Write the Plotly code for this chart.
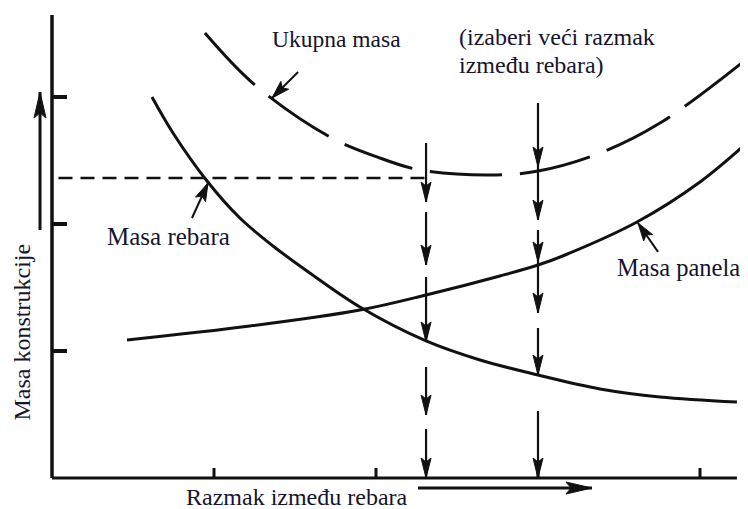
import plotly.graph_objects as go
import numpy as np

# ---------------- data (schematic units: 1 x-unit = one tick step, 1 y-unit = one tick step) -------------
x_ticks = [1, 2, 3, 4]
y_ticks = [1, 2, 3]

rebara_x = [0.617, 0.747, 0.957, 1.160, 1.364, 1.574, 1.901, 2.309, 2.642, 3.000, 3.383, 3.753, 4.228]
rebara_y = [3.000, 2.717, 2.339, 2.047, 1.827, 1.630, 1.346, 1.079, 0.929, 0.811, 0.701, 0.638, 0.598]

panela_x = [0.463, 1.222, 1.901, 2.309, 2.765, 3.000, 3.167, 3.611, 4.000, 4.296]
panela_y = [1.087, 1.197, 1.323, 1.441, 1.591, 1.677, 1.756, 2.016, 2.331, 2.646]

ukupna_x = [0.944, 1.253, 1.716, 2.006, 2.272, 2.704, 3.000, 3.383, 3.753, 4.296]
ukupna_y = [3.504, 3.094, 2.685, 2.528, 2.425, 2.386, 2.417, 2.559, 2.795, 3.307]

guide_level = 2.362
guide_x = [0.04, 2.309]

drop1_x = 2.309
drop1_segments = [(2.638, 2.173), (2.094, 1.677), (1.583, 1.071), (0.874, 0.496), (0.386, 0.0)]
drop2_x = 3.0
drop2_segments = [(2.953, 2.449), (2.449, 2.031), (1.953, 1.701), (1.701, 1.299), (1.181, 0.811), (0.528, 0.0)]

axis_x_end = 4.228
axis_y_end = 3.646

# label texts, positions (left, middle), font sizes and pointer arrows (tail -> tip)
label_texts = ["Ukupna masa", "Masa rebara", "Masa panela"]
label_pos = [(1.346, 3.457), (0.327, 1.898), (3.475, 1.661)]
label_size = [23.5, 25, 24.5]
pointer_tail = [(1.519, 3.197), (0.864, 2.047), (3.741, 1.780)]
pointer_tip = [(1.358, 2.992), (0.963, 2.323), (3.617, 2.008)]

note_lines = ["(izaberi veći razmak", "između rebara)"]
note_pos = [(2.500, 3.472), (2.500, 3.252)]
note_size = [24, 24]

x_title = "Razmak između rebara"
y_title = "Masa konstrukcije"
x_title_pos = (0.815, -0.152)
y_title_pos = (-0.188, 1.150)
x_dir_arrow = ((2.259, -0.079), (3.333, -0.079))
y_dir_arrow = ((-0.074, 1.953), (-0.074, 3.039))

# ---------------- styling / layout ----------------
PXX, PXY = 162.0, 127.0          # pixels per unit
PAGE_OFF = 8                     # default page body margin
W, H = 748 - PAGE_OFF, 509 - PAGE_OFF
X0, Y0 = 52 - PAGE_OFF, 478 - PAGE_OFF   # pixel of origin inside the figure
INK = "#111111"
TXT = "#14142e"
FONT = "Liberation Serif"

fig = go.Figure()

def line(xs, ys, width=3, dash=None, shape="linear"):
    fig.add_trace(go.Scatter(x=xs, y=ys, mode="lines", hoverinfo="skip", showlegend=False,
                             line=dict(color=INK, width=width, dash=dash, shape=shape, smoothing=1.0)))

shapes = []

def head(tail, tip, length=20, half=5.0, notch=0.8):
    tx, ty = tip[0] * PXX, tip[1] * PXY
    sx, sy = tail[0] * PXX, tail[1] * PXY
    d = np.array([tx - sx, ty - sy]); d = d / np.linalg.norm(d)
    n = np.array([-d[1], d[0]])
    T = np.array([tx, ty]); B = T - d * length; N = T - d * length * notch
    Lp = B + n * half; Rp = B - n * half
    pts = [T, Lp, N, Rp]
    path = "M " + " L ".join(f"{p[0]/PXX:.5f},{p[1]/PXY:.5f}" for p in pts) + " Z"
    shapes.append(dict(type="path", path=path, xref="x", yref="y", fillcolor=INK,
                       line=dict(color=INK, width=1)))

# curves
line(rebara_x, rebara_y, width=3, shape="spline")
line(panela_x, panela_y, width=3, shape="spline")
line(ukupna_x, ukupna_y, width=3, dash="72px,18px", shape="spline")

# horizontal guide
line(guide_x, [guide_level, guide_level], width=2.5, dash="14px,8px")

# vertical drop lines with arrowheads
for xv, segs in [(drop1_x, drop1_segments), (drop2_x, drop2_segments)]:
    for a, b in segs:
        line([xv, xv], [a, b], width=2.2)
        head((xv, a), (xv, b), length=20, half=5)

# axes
line([0, 0], [0, axis_y_end], width=3.5)
line([0, axis_x_end], [0, 0], width=3)
for t in y_ticks:
    line([0, 15 / PXX], [t, t], width=4)
for t in x_ticks:
    line([t, t], [0, 10 / PXY], width=3)

# direction arrows
for (tl, tp) in [x_dir_arrow, y_dir_arrow]:
    line([tl[0], tp[0]], [tl[1], tp[1]], width=3)
    head(tl, tp, length=26, half=6, notch=0.8)

# label pointers
for tl, tp in zip(pointer_tail, pointer_tip):
    line([tl[0], tp[0]], [tl[1], tp[1]], width=2)
    head(tl, tp, length=18, half=5.5)

annotations = []
for txt, (lx, ly), fs in zip(label_texts + note_lines, label_pos + note_pos, label_size + note_size):
    annotations.append(dict(x=lx, y=ly, xref="x", yref="y", text=txt, showarrow=False,
                            xanchor="left", yanchor="middle",
                            font=dict(family=FONT, size=fs, color=TXT)))
annotations.append(dict(x=x_title_pos[0], y=x_title_pos[1], xref="x", yref="y", text=x_title,
                        showarrow=False, xanchor="left", yanchor="middle",
                        font=dict(family=FONT, size=24, color=TXT)))
annotations.append(dict(x=y_title_pos[0], y=y_title_pos[1], xref="x", yref="y", text=y_title,
                        showarrow=False, textangle=-90, xanchor="center", yanchor="middle",
                        font=dict(family=FONT, size=24, color=TXT)))

fig.update_layout(
    width=W, height=H, margin=dict(l=0, r=0, t=0, b=0),
    paper_bgcolor="white", plot_bgcolor="white",
    xaxis=dict(range=[-X0 / PXX, (W - X0) / PXX], visible=False, fixedrange=True),
    yaxis=dict(range=[-(H - Y0) / PXY, Y0 / PXY], visible=False, fixedrange=True),
    shapes=shapes, annotations=annotations, showlegend=False,
)

fig.write_html("out.html")
